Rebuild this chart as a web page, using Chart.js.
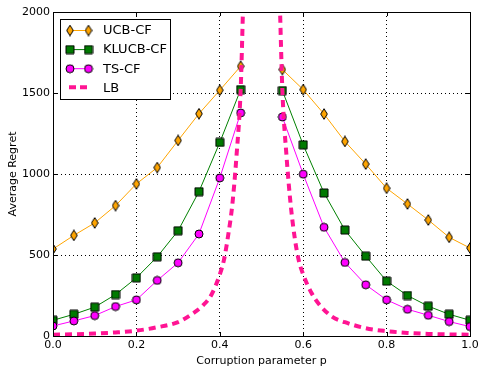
<!DOCTYPE html>
<html>
<head>
<meta charset="utf-8">
<script src="https://cdn.jsdelivr.net/npm/chart.js@4"></script>
<style>
	html, body { margin: 0; padding: 0; background: #fff; }
	#wrap { width: 479px; height: 372px; }
</style>
</head>
<body>
<div id="wrap"><canvas id="regretChart" width="479" height="372"></canvas></div>
<script>
// corruption parameter grid (no run at p = 0.5)
const pValues = [0, 0.05, 0.1, 0.15, 0.2, 0.25, 0.3, 0.35, 0.4, 0.45, 0.5,
	0.55, 0.6, 0.65, 0.7, 0.75, 0.8, 0.85, 0.9, 0.95, 1.0];
const ucbRegret = [537, 621, 698, 805, 939, 1040, 1207, 1372, 1517, 1665, null,
	1645, 1521, 1370, 1201, 1061, 912, 815, 716, 609, 543];
const klucbRegret = [97, 134, 178, 256, 359, 489, 650, 891, 1195, 1521, null,
	1515, 1180, 883, 654, 493, 339, 250, 184, 134, 97];
const tsRegret = [62, 93, 126, 182, 223, 343, 452, 630, 976, 1377, null,
	1352, 999, 671, 454, 316, 223, 165, 128, 89, 58];

const lbP = [0, 0.05, 0.1, 0.15, 0.2, 0.25, 0.3, 0.33, 0.36, 0.38, 0.4, 0.41, 0.42, 0.43, 0.44, 0.45, 0.456,
	0.5,
	0.544, 0.55, 0.56, 0.57, 0.58, 0.59, 0.6, 0.62, 0.64, 0.67, 0.7, 0.75, 0.8, 0.85, 0.9, 0.95, 1.0];
const lbValues = [8, 11, 15, 22, 33, 54, 86, 130, 190, 255, 380, 470, 620, 810, 1110, 1520, 2050,
	null,
	2050, 1521, 1110, 810, 600, 460, 380, 265, 190, 118, 85, 48, 30, 19, 13, 10, 8];

const xTicks = [0, 0.2, 0.4, 0.6, 0.8, 1.0];
const yTicks = [0, 500, 1000, 1500, 2000];

const FONT = '"DejaVu Sans", sans-serif';

function toPoints(xs, ys) {
	return xs.map(function(x, i) { return { x: x, y: ys[i] }; });
}

// small canvases used as point styles
function makeMarker(kind) {
	const c = document.createElement('canvas');
	const w = kind === 'diamond' ? 8 : 10;
	const h = kind === 'diamond' ? 12 : 10;
	c.width = w; c.height = h;
	const g = c.getContext('2d');
	g.lineWidth = 1;
	g.strokeStyle = '#000';
	if (kind === 'diamond') {
		g.fillStyle = '#FFA500';
		g.beginPath();
		g.moveTo(4, 0.7); g.lineTo(7.3, 6); g.lineTo(4, 11.3); g.lineTo(0.7, 6);
		g.closePath();
	} else if (kind === 'square') {
		g.fillStyle = '#007A00';
		g.beginPath();
		g.rect(1, 1, 8, 8);
	} else {
		g.fillStyle = '#FF00FF';
		g.beginPath();
		g.arc(5, 5, 4, 0, Math.PI * 2);
	}
	g.fill();
	g.stroke();
	return c;
}

const diamondMarker = makeMarker('diamond');
const squareMarker = makeMarker('square');
const circleMarker = makeMarker('circle');

const legendItems = [
	{ text: 'UCB-CF', color: '#FFA500', marker: diamondMarker },
	{ text: 'KLUCB-CF', color: '#008000', marker: squareMarker },
	{ text: 'TS-CF', color: '#FF00FF', marker: circleMarker },
	{ text: 'LB', color: '#FF1493', dash: true }
];

// frame, inward ticks and the boxed legend, like the matplotlib original
const framePlugin = {
	id: 'frame',
	afterDraw: function(chart) {
		const ctx = chart.ctx;
		const a = chart.chartArea;
		const xs = chart.scales.x;
		const ys = chart.scales.y;
		ctx.save();
		ctx.strokeStyle = '#000';
		ctx.lineWidth = 1;
		ctx.beginPath();
		xTicks.forEach(function(t) {
			const px = Math.round(xs.getPixelForValue(t)) + 0.5;
			ctx.moveTo(px, a.bottom); ctx.lineTo(px, a.bottom - 4);
			ctx.moveTo(px, a.top); ctx.lineTo(px, a.top + 4);
		});
		yTicks.forEach(function(t) {
			const py = Math.round(ys.getPixelForValue(t)) + 0.5;
			ctx.moveTo(a.left, py); ctx.lineTo(a.left + 4, py);
			ctx.moveTo(a.right, py); ctx.lineTo(a.right - 4, py);
		});
		ctx.stroke();
		ctx.strokeRect(Math.round(a.left) + 0.5, Math.round(a.top) + 0.5,
			Math.round(a.right - a.left), Math.round(a.bottom - a.top));

		// legend
		const lx = 60.5, ly = 19.5, lw = 110, lh = 80;
		ctx.fillStyle = '#fff';
		ctx.fillRect(lx, ly, lw, lh);
		ctx.strokeRect(lx, ly, lw, lh);
		ctx.font = '13px ' + FONT;
		ctx.textBaseline = 'middle';
		legendItems.forEach(function(item, i) {
			const y = 30 + i * 19.1;
			if (item.dash) {
				ctx.strokeStyle = item.color;
				ctx.lineWidth = 4;
				ctx.setLineDash([7, 4]);
				ctx.beginPath();
				ctx.moveTo(69, y); ctx.lineTo(88, y);
				ctx.stroke();
				ctx.setLineDash([]);
			} else {
				ctx.strokeStyle = item.color;
				ctx.lineWidth = 1;
				ctx.beginPath();
				ctx.moveTo(70, y + 0.5); ctx.lineTo(88, y + 0.5);
				ctx.stroke();
				const m = item.marker;
				ctx.drawImage(m, 70 - m.width / 2, y - m.height / 2 + 0.5);
				ctx.drawImage(m, 88.5 - m.width / 2, y - m.height / 2 + 0.5);
			}
			ctx.fillStyle = '#000';
			ctx.fillText(item.text, 103, y + 1);
		});
		ctx.restore();
	}
};

const ctx = document.getElementById('regretChart').getContext('2d');

new Chart(ctx, {
	type: 'line',
	data: {
		datasets: [
			{
				label: 'UCB-CF',
				data: toPoints(pValues, ucbRegret),
				borderColor: '#FFA500',
				borderWidth: 1,
				pointStyle: diamondMarker,
				order: 4
			},
			{
				label: 'KLUCB-CF',
				data: toPoints(pValues, klucbRegret),
				borderColor: '#008000',
				borderWidth: 1,
				pointStyle: squareMarker,
				order: 3
			},
			{
				label: 'TS-CF',
				data: toPoints(pValues, tsRegret),
				borderColor: '#FF00FF',
				borderWidth: 1,
				pointStyle: circleMarker,
				order: 2
			},
			{
				label: 'LB',
				data: toPoints(lbP, lbValues),
				borderColor: '#FF1493',
				borderWidth: 4,
				borderDash: [7, 5],
				borderCapStyle: 'butt',
				pointRadius: 0,
				cubicInterpolationMode: 'monotone',
				order: 1
			}
		]
	},
	options: {
		responsive: false,
		animation: false,
		spanGaps: false,
		layout: { padding: { top: 12, right: 0, left: 0, bottom: 0 } },
		plugins: {
			legend: { display: false },
			tooltip: { enabled: false }
		},
		elements: {
			line: { tension: 0 }
		},
		scales: {
			x: {
				type: 'linear',
				min: 0,
				max: 1,
				afterBuildTicks: function(scale) {
					scale.ticks = xTicks.map(function(v) { return { value: v }; });
				},
				afterFit: function(scale) {
					scale.height = 36;
					scale.paddingRight = 9;
					scale.paddingLeft = 0;
				},
				ticks: {
					color: '#000',
					padding: 3,
					font: { family: FONT, size: 11 },
					callback: function(v) { return Number(v).toFixed(1); }
				},
				grid: { color: '#000', lineWidth: 1, drawTicks: false },
				border: { display: false, dash: [1, 3] },
				title: {
					display: true,
					text: 'Corruption parameter p',
					color: '#000',
					padding: { top: 0, bottom: 4 },
					font: { family: FONT, size: 11 }
				}
			},
			y: {
				min: 0,
				max: 2000,
				afterBuildTicks: function(scale) {
					scale.ticks = yTicks.map(function(v) { return { value: v }; });
				},
				afterFit: function(scale) { scale.width = 53; },
				ticks: {
					color: '#000',
					padding: 3,
					font: { family: FONT, size: 11 },
					callback: function(v) { return String(v); }
				},
				grid: { color: '#000', lineWidth: 1, drawTicks: false },
				border: { display: false, dash: [1, 3] },
				title: {
					display: true,
					text: 'Average Regret',
					color: '#000',
					padding: { top: 7, bottom: 0 },
					font: { family: FONT, size: 11 }
				}
			}
		}
	},
	plugins: [framePlugin]
});
</script>
</body>
</html>
